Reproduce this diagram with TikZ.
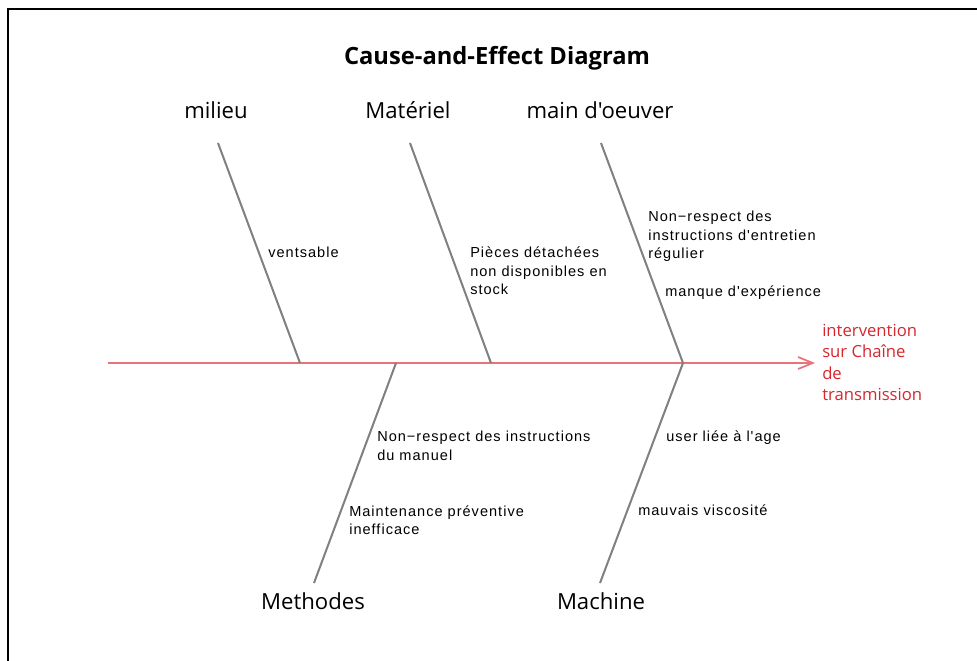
\documentclass[tikz,border=0pt]{standalone}
\usepackage{fontspec}
\setmainfont{Open Sans}
\newfontfamily\catfont{Open Sans}
\newfontfamily\causefont[LetterSpace=7]{Liberation Sans}
\usetikzlibrary{arrows.meta}
\definecolor{spinered}{HTML}{E8737A}
\definecolor{effectred}{HTML}{D7262E}
\definecolor{bonegray}{HTML}{808080}
\tikzset{
  bone/.style={draw=bonegray, line width=1.5pt},
  spine/.style={draw=spinered, line width=2pt, -{Straight Barb[length=11pt,width=9pt,line width=1.3pt]}},
  catlabel/.style={inner sep=0pt, anchor=base, font=\catfont\fontsize{16.6pt}{19pt}\selectfont},
  cause/.style={inner sep=0pt, align=left, font=\causefont\fontsize{10.9pt}{13.9pt}\selectfont},
  effect/.style={inner sep=0pt, align=left, anchor=north west, text=effectred, font=\catfont\fontsize{12.5pt}{16.2pt}\selectfont},
}
\begin{document}
\begin{tikzpicture}[x=0.75pt, y=-0.75pt]
\useasboundingbox (0,0) rectangle (977,660);
\fill[white] (0,0) rectangle (977,660);
% frame
\coordinate (fbl) at (8.3,660);
\coordinate (ftl) at (8.3,9.3);
\coordinate (ftr) at (977,9.3);
\draw[line width=1.5pt, line cap=rect] (fbl) -- (ftl) -- (ftr);
% title
\node[anchor=base, inner sep=0pt, font=\catfont\bfseries\fontsize{17.8pt}{20pt}\selectfont] (title) at (497,64.8) {Cause-and-Effect Diagram};
% spine
\coordinate (tail) at (108,363);
\coordinate (head) at (815,363);
\draw[spine] (tail) -- (head);
% bone coordinates
\coordinate (t1) at (218,143); \coordinate (s1) at (300,363);
\coordinate (t2) at (410,143); \coordinate (s2) at (491,363);
\coordinate (t3) at (601,143); \coordinate (s3) at (683,363);
\coordinate (b4) at (314,583); \coordinate (s4) at (396,363);
\coordinate (b5) at (600,583); \coordinate (s5) at (683,363);
\draw[bone] (t1) -- (s1);
\draw[bone] (t2) -- (s2);
\draw[bone] (t3) -- (s3);
\draw[bone] (b4) -- (s4);
\draw[bone] (b5) -- (s5);
% category labels
\node[catlabel] (milieu) at (216,118.4) {milieu};
\node[catlabel] (materiel) at (408,118.4) {Matériel};
\node[catlabel] (main) at (600,118.4) {main d'oeuver};
\node[catlabel] (methodes) at (313,609.3) {Methodes};
\node[catlabel] (machine) at (601,609.3) {Machine};
% causes
\node[cause, anchor=base west] (c1) at (268,257.3) {ventsable};
\node[cause, anchor=north west] (c2) at (470,246.7) {Pièces détachées\\non disponibles en\\stock};
\node[cause, anchor=north west] (c3) at (648,211.1) {Non−respect des\\instructions d'entretien\\régulier};
\node[cause, anchor=base west] (c4) at (665,296) {manque d'expérience};
\node[cause, anchor=north west] (c5) at (377,431.1) {Non−respect des instructions\\du manuel};
\node[cause, anchor=north west] (c6) at (349,505.4) {Maintenance préventive\\inefficace};
\node[cause, anchor=base west] (c7) at (666,441.7) {user liée à l'age};
\node[cause, anchor=base west] (c8) at (638,515) {mauvais viscosité};
% effect
\node[effect] (eff) at (822,323.5) {intervention\\sur Chaîne\\de\\transmission};
\end{tikzpicture}
\end{document}
